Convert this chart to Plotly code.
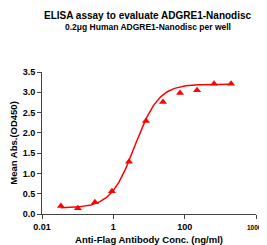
import numpy as np
import plotly.graph_objects as go

# Data
conc_ng_ml = [2000, 666.7, 222.2, 74.07, 24.69, 8.230, 2.743, 0.9145, 0.3048, 0.1016, 0.03387]
mean_abs = [3.21, 3.21, 3.05, 2.98, 2.76, 2.29, 1.29, 0.56, 0.29, 0.14, 0.20]

# 4PL fit parameters (estimated from the fitted curve in the reference)
fit_bottom = 0.15
fit_top = 3.20
fit_ec50 = 4.0
fit_hill = 1.3

title_text = "ELISA assay to evaluate ADGRE1-Nanodisc"
subtitle_text = "0.2μg Human ADGRE1-Nanodisc per well"
x_title = "Anti-Flag Antibody Conc. (ng/ml)"
y_title = "Mean Abs.(OD450)"
x_tickvals = [0.01, 1, 100, 10000]
x_ticktext = ["0.01", "1", "100", "10000"]
y_tickvals = [0.0, 0.5, 1.0, 1.5, 2.0, 2.5, 3.0, 3.5]
y_ticktext = ["0.0", "0.5", "1.0", "1.5", "2.0", "2.5", "3.0", "3.5"]

xs = np.logspace(np.log10(min(conc_ng_ml)), np.log10(max(conc_ng_ml)), 200)
ys = fit_bottom + (fit_top - fit_bottom) / (1 + (fit_ec50 / xs) ** fit_hill)

FONT = "Liberation Sans, Arial, sans-serif"
RED = "#ff0000"
AXC = "#444444"

# The page body has an 8px default margin; the figure is sized so the page
# shows the plot area at x 42..256, y 72..214 like the reference.
OFF = 8
W, H = 267 - OFF, 245 - OFF
L, T = 42 - OFF, 72 - OFF
R = W - L - (256 - 42)
B = H - T - (214 - 72)

# last tick label sits at the right edge; draw it a bit smaller so it fits
tick_labels_x = [t if t != "10000" else '<span style="font-size:6.5px">' + t + "</span>"
                 for t in x_ticktext]

fig = go.Figure()
fig.add_trace(go.Scatter(x=xs, y=ys, mode="lines",
                         line=dict(color=RED, width=1.5), hoverinfo="skip",
                         showlegend=False))
fig.add_trace(go.Scatter(x=conc_ng_ml, y=mean_abs, mode="markers",
                         marker=dict(symbol="triangle-up", size=7, color=RED),
                         showlegend=False, cliponaxis=False))

fig.update_layout(
    template="none",
    width=W, height=H,
    margin=dict(l=L, r=R, t=T, b=B, autoexpand=False),
    paper_bgcolor="white", plot_bgcolor="white",
    font=dict(family=FONT, color="black"),
    showlegend=False,
)

plot_w = W - L - R
plot_h = H - T - B
def px_to_paper_x(px):
    return (px - OFF - L) / plot_w
def px_to_paper_y(py):
    return (H - B - (py - OFF)) / plot_h

fig.add_annotation(text=title_text, x=px_to_paper_x(148), y=px_to_paper_y(15),
                   xref="paper", yref="paper", showarrow=False,
                   xanchor="center", yanchor="middle",
                   font=dict(size=10, weight="bold", family=FONT, color="black"))
fig.add_annotation(text=subtitle_text, x=px_to_paper_x(148), y=px_to_paper_y(27),
                   xref="paper", yref="paper", showarrow=False,
                   xanchor="center", yanchor="middle",
                   font=dict(size=8.5, weight="bold", family=FONT, color="black"))

fig.update_xaxes(
    type="log", range=[-2, 4], automargin=False,
    tickmode="array", tickvals=x_tickvals, ticktext=tick_labels_x,
    ticklabeloverflow="allow",
    ticks="outside", ticklen=4, tickwidth=1, tickcolor=AXC,
    showline=True, linecolor=AXC, linewidth=1,
    showgrid=False, zeroline=False,
    tickfont=dict(size=9, weight="bold", family=FONT, color="black"),
    title=dict(text=x_title, font=dict(size=9.5, weight="bold", family=FONT, color="black"), standoff=5),
)
fig.update_yaxes(
    range=[0, 3.5], automargin=False,
    tickmode="array", tickvals=y_tickvals, ticktext=y_ticktext,
    ticks="outside", ticklen=4, tickwidth=1, tickcolor=AXC,
    showline=True, linecolor=AXC, linewidth=1,
    showgrid=False, zeroline=False,
    tickfont=dict(size=9, weight="bold", family=FONT, color="black"),
    title=dict(text=y_title, font=dict(size=9.5, weight="bold", family=FONT, color="black"), standoff=8),
)

fig.write_html("out.html")
